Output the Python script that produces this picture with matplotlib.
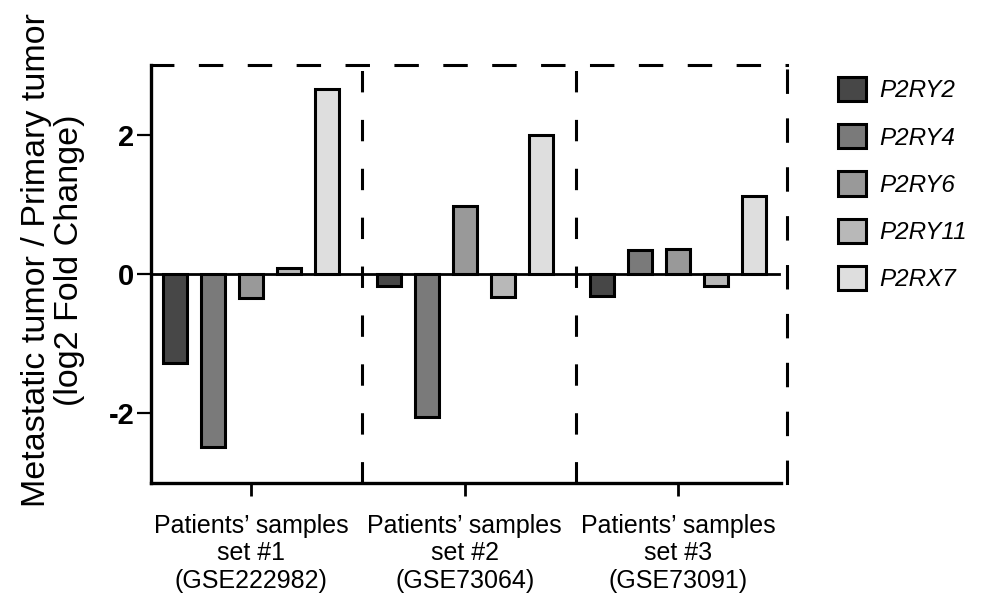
import numpy as np
import matplotlib.pyplot as plt

plt.rcParams['font.family'] = ['Liberation Sans', 'DejaVu Sans']

genes = ['P2RY2', 'P2RY4', 'P2RY6', 'P2RY11', 'P2RX7']
groups = ['Patients\u2019 samples\nset #1\n(GSE222982)',
          'Patients\u2019 samples\nset #2\n(GSE73064)',
          'Patients\u2019 samples\nset #3\n(GSE73091)']
# log2 fold change per gene, one value per sample set
p2ry2 = [-1.28, -0.17, -0.32]
p2ry4 = [-2.49, -2.05, 0.34]
p2ry6 = [-0.34, 0.97, 0.36]
p2ry11 = [0.08, -0.33, -0.17]
p2rx7 = [2.66, 2.00, 1.12]
values = [p2ry2, p2ry4, p2ry6, p2ry11, p2rx7]
colors = ['#474747', '#7a7a7a', '#999999', '#b8b8b8', '#dedede']

fig = plt.figure(figsize=(9.82, 5.94), dpi=100)
ax = fig.add_axes([151 / 982, 1 - 483 / 594, 636 / 982, 418 / 594])

x = np.arange(len(groups))
step = 0.178
width = 0.112
for i, (g, v) in enumerate(zip(genes, values)):
    ax.bar(x + (i - 2) * step, v, width, color=colors[i], edgecolor='black',
           linewidth=2.2, label=g, zorder=3)

ax.axhline(0, xmax=0.987, color='black', lw=2.0, zorder=4)
dash = (0, (7, 9))
for sep in [0.52, 1.52]:
    ax.axvline(sep, color='black', lw=2.2, ls=dash, zorder=2)

ax.set_xlim(-0.47, 2.51)
ax.set_ylim(-3, 3)
ax.set_yticks([-2, 0, 2])
ax.set_yticklabels(['-2', '0', '2'], fontsize=21, fontweight='bold')
ax.set_xticks(x)
ax.set_xticklabels(groups, fontsize=18, linespacing=1.2)
ax.tick_params(axis='y', direction='out', length=10, width=1.6, pad=2)
ax.tick_params(axis='x', direction='out', length=9, width=2.0, pad=13)

for s in ['left', 'bottom']:
    ax.spines[s].set_linewidth(2.4)
ax.spines['bottom'].set_bounds(-0.47, 2.48)
for s in ['top', 'right']:
    ax.spines[s].set_linewidth(2.2)
    ax.spines[s].set_linestyle(dash)

ax.set_ylabel('Metastatic tumor / Primary tumor\n(log2 Fold Change)', fontsize=24.5,
              linespacing=1.12)
ax.yaxis.set_label_coords(-0.103, 0.533)

leg = fig.legend(loc='upper left', bbox_to_anchor=(826 / 982, 1 - 65 / 594),
                 frameon=False, fontsize=17.5, handlelength=1.15, handleheight=1.15,
                 labelspacing=0.9, handletextpad=0.55, borderpad=0)
for t in leg.get_texts():
    t.set_fontstyle('italic')

fig.savefig('out.png', dpi=100)
